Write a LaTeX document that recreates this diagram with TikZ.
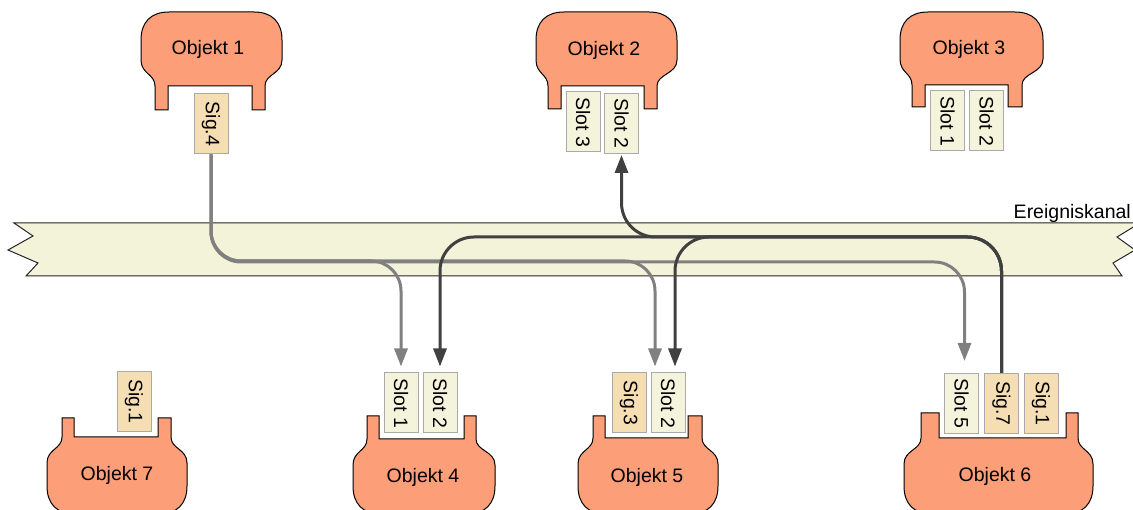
\documentclass[tikz,border=0pt]{standalone}
\usepackage{fontspec}
\setmainfont{Liberation Sans}
\usetikzlibrary{arrows.meta}
\definecolor{salmon}{RGB}{252,158,120}
\definecolor{slotc}{RGB}{244,244,220}
\definecolor{sigc}{RGB}{245,222,179}
\definecolor{chan}{RGB}{243,243,218}
\definecolor{lgray}{RGB}{128,128,128}
\definecolor{dgray}{RGB}{64,64,64}
\definecolor{boxline}{RGB}{170,170,170}
% top object: L R lo li ri ro N B
\newcommand\objtop[8]{%
  \path[objshape] (#3,#8) -- (#3,#7) .. controls (#3,{#7-12}) and (#1,{#7-12}) .. (#1,{#7-26})
    -- (#1,40) .. controls (#1,22) and ({#1+10},12) .. ({#1+28},12)
    -- ({#2-28},12) .. controls ({#2-10},12) and (#2,22) .. (#2,40)
    -- (#2,{#7-26}) .. controls (#2,{#7-12}) and (#6,{#7-12}) .. (#6,#7)
    -- (#6,#8) -- (#5,#8) -- (#5,#7) -- (#4,#7) -- (#4,#8) -- cycle;}
% bottom object: L R lo li ri ro legtop N
\newcommand\objbot[8]{%
  \path[objshape] (#3,#7) -- (#3,#8) .. controls (#3,{#8+12}) and (#1,{#8+12}) .. (#1,{#8+26})
    -- (#1,486) .. controls (#1,504) and ({#1+10},514) .. ({#1+28},514)
    -- ({#2-28},514) .. controls ({#2-10},514) and (#2,504) .. (#2,486)
    -- (#2,{#8+26}) .. controls (#2,{#8+12}) and (#6,{#8+12}) .. (#6,#8)
    -- (#6,#7) -- (#5,#7) -- (#5,#8) -- (#4,#8) -- (#4,#7) -- cycle;}
\begin{document}
\begin{tikzpicture}[x=1pt,y=-1pt,
  every node/.style={font=\fontsize{19.5}{22}\selectfont},
  objshape/.style={fill=salmon, draw=black, line width=1pt},
  slotbox/.style={draw=boxline, fill=slotc, line width=1pt, minimum width=34pt, minimum height=60pt, inner sep=0pt},
  sigbox/.style={slotbox, fill=sigc},
  gline/.style={draw=lgray, line width=3pt, rounded corners=30pt, -{Triangle[length=18pt,width=13pt]}},
  dline/.style={draw=dgray, line width=3pt, rounded corners=34pt, -{Triangle[length=18pt,width=13pt]}}]
\useasboundingbox (0,0) rectangle (1133,510);
% channel
\path[fill=chan, draw=black!85, line width=1pt]
  (14,223) -- (1140,223) -- (1117,237) -- (1135,250) -- (1113,263) -- (1122,276)
  -- (26,276) -- (38,263) -- (8,250) -- (33,236) -- cycle;
\node[anchor=base east, inner sep=0pt] (chlabel) at (1131,219) {Ereigniskanal};
% objects
\objtop{141}{282}{155}{168}{252}{265}{86}{110}
\objtop{536}{677}{548}{561}{644}{657}{86}{109}
\objtop{900}{1043}{912}{925}{1008}{1022}{85}{107}
\objbot{47}{187}{62}{74}{158}{171}{418}{437}
\objbot{353}{495}{367}{379}{464}{476}{416}{439}
\objbot{578}{718}{593}{605}{688}{702}{416}{438}
\objbot{904}{1093}{921}{939}{1066}{1078}{413}{438}
\node (o1) at (208,49) {Objekt 1};
\node (o2) at (604,50) {Objekt 2};
\node (o3) at (969,49) {Objekt 3};
\node (o7) at (117,475) {Objekt 7};
\node (o4) at (423,477) {Objekt 4};
\node (o5) at (647,477) {Objekt 5};
\node (o6) at (995,476) {Objekt 6};
% slots
\node[sigbox] (sig4) at (211,124) {\rotatebox{-90}{Sig.4}};
\node[slotbox] (s23) at (583,122) {\rotatebox{-90}{Slot 3}};
\node[slotbox] (s22) at (621.5,123.5) {\rotatebox{-90}{Slot 2}};
\node[slotbox] (s31) at (947.5,121) {\rotatebox{-90}{Slot 1}};
\node[slotbox] (s32) at (986.5,121) {\rotatebox{-90}{Slot 2}};
\node[sigbox] (sig1a) at (134,401.5) {\rotatebox{-90}{Sig.1}};
\node[slotbox] (s41) at (401,403) {\rotatebox{-90}{Slot 1}};
\node[slotbox] (s42) at (440,403) {\rotatebox{-90}{Slot 2}};
\node[sigbox] (sig3) at (629,403) {\rotatebox{-90}{Sig.3}};
\node[slotbox] (s52) at (668,403) {\rotatebox{-90}{Slot 2}};
\node[slotbox] (s65) at (961.5,403.5) {\rotatebox{-90}{Slot 5}};
\node[sigbox] (sig7) at (1001.5,403.5) {\rotatebox{-90}{Sig.7}};
\node[sigbox] (sig1b) at (1041,403.5) {\rotatebox{-90}{Sig.1}};
% connectors
\coordinate (t5g) at ([xshift=-13pt]s52.north);
\coordinate (t5d) at ([xshift=7pt]s52.north);
\coordinate (t6g) at ([xshift=3pt]s65.north);
\draw[gline, shorten >=6pt] (sig4.south) -- (sig4.south |- 0,261) -- (s41.north |- 0,261) -- (s41.north);
\draw[gline, shorten >=6pt] (sig4.south) -- (sig4.south |- 0,261) -- (t5g |- 0,261) -- (t5g);
\draw[gline, shorten >=12pt] (sig4.south) -- (sig4.south |- 0,262) -- (t6g |- 0,262) -- (t6g);
\draw[dline, shorten >=1pt] (sig7.north) -- (sig7.north |- 0,237) -- (s22.south |- 0,237) -- (s22.south);
\draw[dline, shorten >=6pt] (sig7.north) -- (sig7.north |- 0,237) -- (s42.north |- 0,237) -- (s42.north);
\draw[dline, shorten >=6pt] (sig7.north) -- (sig7.north |- 0,237) -- (t5d |- 0,237) -- (t5d);
\end{tikzpicture}
\end{document}
